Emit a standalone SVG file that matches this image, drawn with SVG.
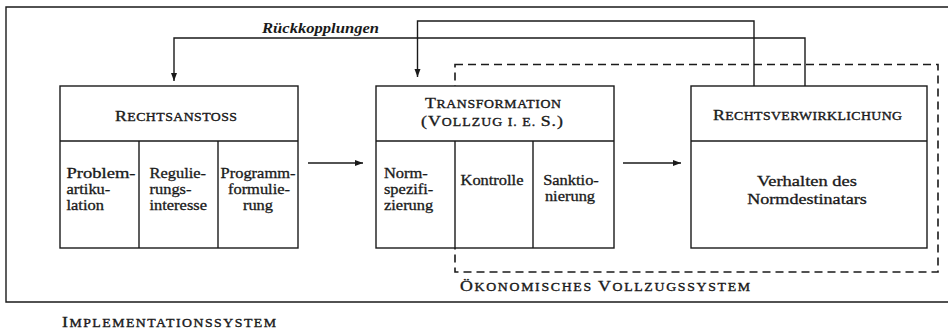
<svg xmlns="http://www.w3.org/2000/svg" width="949" height="332" viewBox="0 0 949 332">
<defs>
<marker id="ah" markerUnits="userSpaceOnUse" markerWidth="9" markerHeight="7" refX="8" refY="3" orient="auto">
<path d="M0,0 L8,3 L0,6 z" fill="#1a1a1a"/>
</marker>
<style>
.ln{fill:none;stroke:#1a1a1a;stroke-width:1.4}
.box{fill:#fff;stroke:#1a1a1a;stroke-width:1.4}
.dash{fill:none;stroke:#1a1a1a;stroke-width:1.6;stroke-dasharray:8 5}
.t{font-family:"Liberation Serif","Times New Roman",serif;font-size:14.3px;fill:#1a1a1a;stroke:#1a1a1a;stroke-width:0.3}
.sc{font-family:"Liberation Serif","Times New Roman",serif;font-size:15.5px;fill:#1a1a1a;stroke:#1a1a1a;stroke-width:0.35}
.s{font-size:12px}
.c{text-anchor:middle}
.it{font-family:"Liberation Serif","Times New Roman",serif;font-size:15px;font-style:italic;font-weight:bold;fill:#1a1a1a}
</style>
</defs>
<rect width="949" height="332" fill="#fff"/>

<g id="implementationssystem">
<path class="ln" d="M948,7 H6 V302 H948"/>
<g transform="scale(1.15,1)">
<text class="sc" x="53.91" y="327" textLength="186.1" lengthAdjust="spacing">I<tspan class="s">MPLEMENTATIONSSYSTEM</tspan></text>
</g>
</g>

<g id="oekonomisches-vollzugssystem">
<rect class="dash" x="455" y="64.5" width="483" height="207.5"/>
<g transform="scale(1.15,1)">
<text class="sc" x="400" y="291" textLength="252.2" lengthAdjust="spacing">Ö<tspan class="s">KONOMISCHES </tspan>V<tspan class="s">OLLZUGSSYSTEM</tspan></text>
</g>
</g>

<g id="rechtsanstoss">
<rect class="box" x="60" y="86" width="238" height="162"/>
<path class="ln" d="M60,141 H298 M139,141 V248 M218,141 V248"/>
<g transform="scale(1.15,1)">
<text class="sc" x="100" y="121" textLength="106.1" lengthAdjust="spacing">R<tspan class="s">ECHTSANSTOSS</tspan></text>
<text class="t" x="57.83" y="178" textLength="60" lengthAdjust="spacingAndGlyphs">Problem-</text>
<text class="t" x="57.83" y="194">artiku-</text>
<text class="t" x="57.83" y="210">lation</text>
<text class="t" x="130" y="178">Regulie-</text>
<text class="t" x="130" y="194">rungs-</text>
<text class="t" x="130" y="210">interesse</text>
<text class="t c" x="224.35" y="178">Programm-</text>
<text class="t c" x="225.2" y="194">formulie-</text>
<text class="t c" x="224.35" y="210">rung</text>
</g>
</g>

<g id="transformation">
<rect class="box" x="376" y="86" width="238" height="162"/>
<path class="ln" d="M376,141 H614 M455,141 V248 M533,141 V248"/>
<g transform="scale(1.15,1)">
<text class="sc" x="369.57" y="108" textLength="118.3" lengthAdjust="spacing">T<tspan class="s">RANSFORMATION</tspan></text>
<text class="sc" x="366.09" y="126" textLength="123.5" lengthAdjust="spacing">(V<tspan class="s">OLLZUG I. E. </tspan>S.)</text>
<text class="t" x="333.91" y="178">Norm-</text>
<text class="t" x="333.91" y="194">spezifi-</text>
<text class="t" x="333.91" y="210">zierung</text>
<text class="t c" x="427.83" y="185">Kontrolle</text>
<text class="t c" x="496.52" y="185">Sanktio-</text>
<text class="t c" x="495.65" y="201">nierung</text>
</g>
</g>

<g id="rechtsverwirklichung">
<rect class="box" x="691" y="86" width="236" height="162"/>
<path class="ln" d="M691,141 H927"/>
<g transform="scale(1.15,1)">
<text class="sc" x="620" y="120" textLength="164.35" lengthAdjust="spacing">R<tspan class="s">ECHTSVERWIRKLICHUNG</tspan></text>
<text class="t c" x="701.74" y="186" textLength="87" lengthAdjust="spacingAndGlyphs">Verhalten des</text>
<text class="t c" x="701.74" y="204" textLength="104" lengthAdjust="spacingAndGlyphs">Normdestinatars</text>
</g>
</g>

<g id="connectors">
<path class="ln" d="M805,86 V38 H174 V81" marker-end="url(#ah)"/>
<path class="ln" d="M754,86 V21 H417.5 V77" marker-end="url(#ah)"/>
<text class="it" x="262" y="33" textLength="117" lengthAdjust="spacingAndGlyphs">Rückkopplungen</text>
<path class="ln" d="M308,163 H363" marker-end="url(#ah)"/>
<path class="ln" d="M623,163 H681" marker-end="url(#ah)"/>
</g>
</svg>
